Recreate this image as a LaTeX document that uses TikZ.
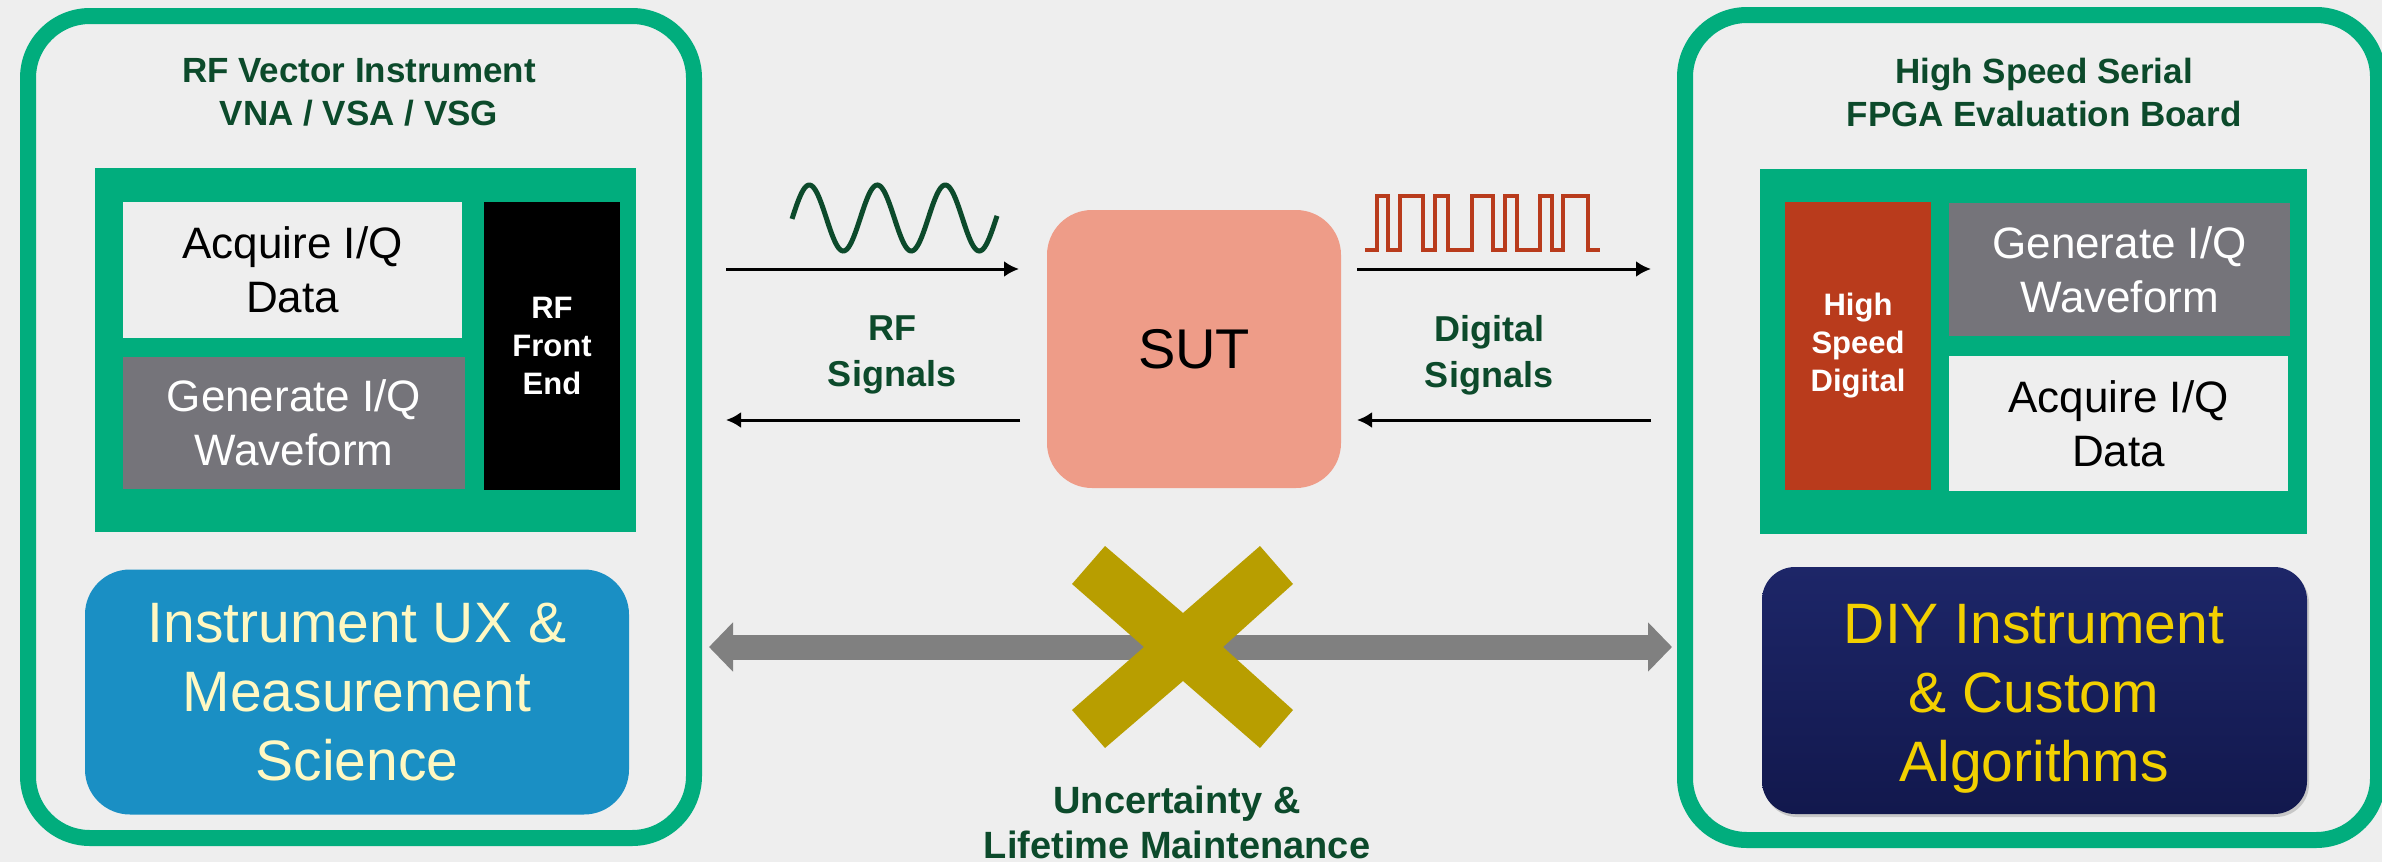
\documentclass[tikz,border=0pt]{standalone}
\usepackage{fontspec}
\setmainfont{Liberation Sans}
\usetikzlibrary{arrows.meta,shadows}

\definecolor{bg}{HTML}{EEEEEE}
\definecolor{hpegreen}{HTML}{01AD7D}
\definecolor{darkgreen}{HTML}{0C4A2B}
\definecolor{boxlight}{HTML}{EEEEEE}
\definecolor{boxgray}{HTML}{75747A}
\definecolor{rust}{HTML}{B93B1C}
\definecolor{skyblue}{HTML}{1A8FC4}
\definecolor{cream}{HTML}{FFF8C2}
\definecolor{navytop}{HTML}{1D2668}
\definecolor{navybot}{HTML}{12184D}
\definecolor{gold}{HTML}{F2D000}
\definecolor{salmon}{HTML}{EE9C88}
\definecolor{olive}{HTML}{B89E00}
\definecolor{arrowgray}{HTML}{808080}

\newcommand{\fsz}[2]{\fontsize{#1}{#2}\selectfont}

\tikzset{
  panel/.style={draw=hpegreen, line width=16pt, rounded corners=62pt,
    rectangle, inner sep=0pt},
  heading/.style={align=center, text=darkgreen, font=\fsz{35}{43}\bfseries},
  block/.style={rectangle, inner sep=0pt, align=center},
  greenbox/.style={block, fill=hpegreen},
  lightbox/.style={block, fill=boxlight, text=black, font=\fsz{44}{54}},
  graybox/.style={block, fill=boxgray, text=white, font=\fsz{44}{54}},
  tallbox/.style={block, text=white, font=\fsz{31}{38}\bfseries},
  siglabel/.style={align=center, text=darkgreen, font=\fsz{36}{46}\bfseries},
  sigarrow/.style={black, line width=3pt, -{Latex[length=15pt,width=16pt]}},
}

\begin{document}
\begin{tikzpicture}[x=1pt, y=-1pt]
  \useasboundingbox (0,0) rectangle (2382,862);
  \fill[bg] (0,0) rectangle (2382,862);

  % ---------- left panel: RF vector instrument ----------
  \node[panel, minimum width=666pt, minimum height=822pt] (instr) at (361,427) {};
  \node[heading] (instrtitle) at (359,92) {RF Vector Instrument\\VNA / VSA / VSG};
  \node[greenbox, minimum width=541pt, minimum height=364pt] (instrcore) at (365.5,350) {};
  \node[lightbox, minimum width=339pt, minimum height=136pt] (acqL) at (292.5,270) {Acquire I/Q\\Data};
  \node[graybox, minimum width=342pt, minimum height=132pt] (genL) at (294,423) {Generate I/Q\\Waveform};
  \node[tallbox, fill=black, minimum width=136pt, minimum height=288pt] (rffe) at (552,346) {RF\\Front\\End};
  \node[block, fill=skyblue, rounded corners=45pt, minimum width=544pt, minimum height=245pt,
        text=cream, font=\fsz{57}{69}] (ux) at (357,692) {Instrument UX \&\\Measurement\\Science};

  % ---------- right panel: FPGA evaluation board ----------
  \node[panel, minimum width=693pt, minimum height=825pt] (fpga) at (2031.5,427.5) {};
  \node[heading] (fpgatitle) at (2044,92) {High Speed Serial\\FPGA Evaluation Board};
  \node[greenbox, minimum width=547pt, minimum height=365pt] (fpgacore) at (2033.5,351.5) {};
  \node[tallbox, fill=rust, minimum width=146pt, minimum height=288pt] (hsd) at (1858,346) {High\\Speed\\Digital};
  \node[graybox, minimum width=341pt, minimum height=133pt] (genR) at (2119.5,269.5) {Generate I/Q\\Waveform};
  \node[lightbox, minimum width=339pt, minimum height=135pt] (acqR) at (2118.5,423.5) {Acquire I/Q\\Data};
  \node[block, top color=navytop, bottom color=navybot, rounded corners=33pt,
        minimum width=545pt, minimum height=247pt,
        drop shadow={shadow xshift=2pt, shadow yshift=-3pt, opacity=0.35}] (diy)
        at (2034.5,690.5) {};
  \node[align=center, text=gold, font=\fsz{57}{69}] (diytext) at (2034,699)
        {DIY Instrument\\\& Custom\\Algorithms};

  % ---------- system under test ----------
  \node[block, fill=salmon, rounded corners=45pt, minimum width=294pt, minimum height=278pt,
        font=\fsz{56}{66}] (sut) at (1194,349) {SUT};

  % RF path: sine burst, period 68, peak at x = 809.3
  \draw[darkgreen, line width=5pt] plot[domain=-17.3:187.7, samples=150, smooth]
        ({809.3+\x}, {218-33*cos(5.29412*\x)});
  \coordinate (rftx) at (726,269);  \coordinate (rfsut) at (1019,269);
  \coordinate (rfback) at (1020,420); \coordinate (rfrx) at (726,420);
  \draw[sigarrow] (rftx) -- (rfsut);
  \draw[sigarrow] (rfback) -- (rfrx);
  \node[siglabel] (rflabel) at (892,355) {RF\\Signals};

  % digital path
  \draw[rust, line width=4pt]
    (1365,250) -- (1377,250) -- (1377,196) -- (1388,196) -- (1388,250) -- (1400,250)
    -- (1400,196) -- (1423,196) -- (1423,250) -- (1435,250) -- (1435,196) -- (1448,196)
    -- (1448,250) -- (1472,250) -- (1472,196) -- (1493,196) -- (1493,250) -- (1505,250)
    -- (1505,196) -- (1517,196) -- (1517,250) -- (1540,250) -- (1540,196) -- (1552,196)
    -- (1552,250) -- (1563,250) -- (1563,196) -- (1588,196) -- (1588,250) -- (1600,250);
  \coordinate (dgsut) at (1357,269); \coordinate (dgtx) at (1651,269);
  \coordinate (dgrx) at (1651,420);  \coordinate (dgback) at (1357,420);
  \draw[sigarrow] (dgsut) -- (dgtx);
  \draw[sigarrow] (dgrx) -- (dgback);
  \node[siglabel] (dglabel) at (1489,355) {Digital\\Signals};

  % crossed-out link between the two approaches
  \coordinate (linkL) at (709,647); \coordinate (linkR) at (1672,647);
  \draw[arrowgray, line width=25pt,
        {Triangle[length=24pt,width=48pt]}-{Triangle[length=24pt,width=48pt]}] (linkL) -- (linkR);
  \fill[olive] (1105,546) -- (1183,613) -- (1260,546) -- (1293,584) -- (1223,647)
    -- (1293,710) -- (1260,748) -- (1183,681) -- (1105,748) -- (1072,710)
    -- (1144,647) -- (1072,584) -- cycle;
  \node[align=center, text=darkgreen, font=\fsz{38}{45}\bfseries] (cost) at (1177,822)
    {Uncertainty \&\\Lifetime Maintenance};
\end{tikzpicture}
\end{document}
